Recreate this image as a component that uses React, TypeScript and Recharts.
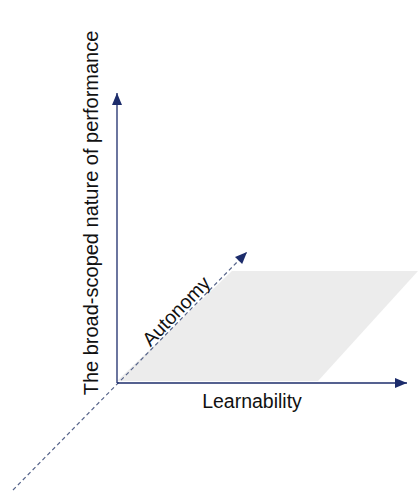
import { ComposedChart, XAxis, YAxis, Scatter, Area, ReferenceDot } from 'recharts'

// diagram units = pixels relative to the axis origin
const verticalAxis = [{ x: 0, y: 0 }, { x: 0, y: 290 }]
const horizontalAxis = [{ x: 0, y: 0 }, { x: 290, y: 0 }]
const depthAxis = [{ x: -104, y: -107 }, { x: 130, y: 131 }]
const plane = [
  { x: 0, range: [2, 2] },
  { x: 115, range: [2, 112] },
  { x: 201, range: [2, 112] },
  { x: 301, range: [112, 112] },
]
const titles = {
  vertical: 'The broad-scoped nature of performance',
  horizontal: 'Learnability',
  depth: 'Autonomy',
}

const NAVY = '#1c2c6b'
const FONT = '"Liberation Sans", Arial, sans-serif'

type Pt = { x: number; y: number }

const arrowShape = (data: Pt[], color: string) => {
  const a = data[0]
  const b = data[data.length - 1]
  const deg = (Math.atan2(-(b.y - a.y), b.x - a.x) * 180) / Math.PI
  return (props: any) => {
    const p = props.payload
    if (!p || p.x !== b.x || p.y !== b.y) return <g />
    return (
      <polygon
        points="0,0 -12,-5 -12,5"
        fill={color}
        transform={`translate(${props.cx},${props.cy}) rotate(${deg})`}
      />
    )
  }
}

export default function App() {
  return (
    <div style={{ position: 'absolute', left: 0, top: 0, width: 418, height: 492, background: '#fff' }}>
      <ComposedChart width={418} height={492} margin={{ top: 0, right: 0, bottom: 0, left: 0 }}>
        <XAxis type="number" dataKey="x" domain={[-117, 301]} hide />
        <YAxis type="number" dataKey="y" domain={[-109, 383]} hide />
        <Area
          data={plane}
          dataKey="range"
          type="linear"
          stroke="none"
          fill="#ececec"
          fillOpacity={1}
          isAnimationActive={false}
        />
        <Scatter
          data={depthAxis}
          line={{ stroke: '#56648a', strokeWidth: 1.2, strokeDasharray: '4 3' }}
          lineType="joint"
          shape={arrowShape(depthAxis, NAVY)}
          isAnimationActive={false}
        />
        <Scatter
          data={verticalAxis}
          line={{ stroke: NAVY, strokeWidth: 1.3 }}
          lineType="joint"
          shape={arrowShape(verticalAxis, NAVY)}
          isAnimationActive={false}
        />
        <Scatter
          data={horizontalAxis}
          line={{ stroke: NAVY, strokeWidth: 1.3 }}
          lineType="joint"
          shape={arrowShape(horizontalAxis, NAVY)}
          isAnimationActive={false}
        />
        <ReferenceDot
          x={-26}
          y={170}
          r={0}
          stroke="none"
          label={{ value: titles.vertical, position: 'center', angle: -90, fontSize: 20, fill: '#111', fontFamily: FONT }}
        />
        <ReferenceDot
          x={135}
          y={-18}
          r={0}
          stroke="none"
          label={{ value: titles.horizontal, position: 'center', fontSize: 19.5, fill: '#111', fontFamily: FONT }}
        />
        <ReferenceDot
          x={59}
          y={72}
          r={0}
          stroke="none"
          label={{ value: titles.depth, position: 'center', angle: -46, fontSize: 19.5, fill: '#111', fontFamily: FONT }}
        />
      </ComposedChart>
    </div>
  )
}
